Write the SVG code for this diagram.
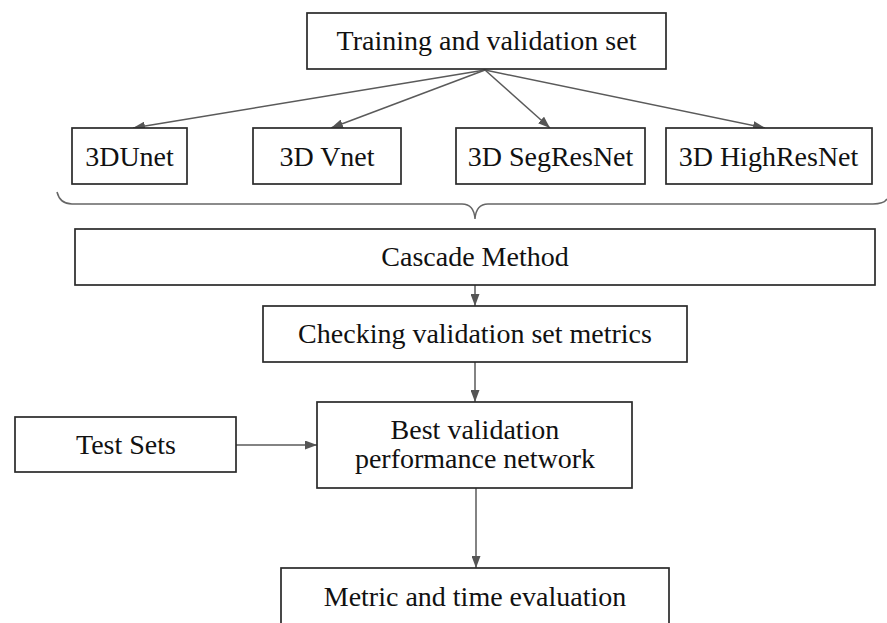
<svg xmlns="http://www.w3.org/2000/svg" width="887" height="623" viewBox="0 0 887 623">
<style>
.box{fill:#fff;stroke:#2a2a2a;stroke-width:1.7}
.lbl{font-family:"Liberation Serif","Times New Roman",serif;font-size:28px;fill:#111;text-anchor:middle}
.conn{fill:none;stroke:#5a5a5a;stroke-width:1.5}
.brace{fill:none;stroke:#666;stroke-width:1.5}
</style>
<defs>
<marker id="ah" viewBox="0 0 12 9" refX="12" refY="4.5" markerWidth="12" markerHeight="9" markerUnits="userSpaceOnUse" orient="auto">
<path d="M0,0 L12,4.5 L0,9 Z" fill="#555"/>
</marker>
</defs>
<rect width="887" height="623" fill="#fff"/>
<g id="connectors">
<line class="conn" x1="485" y1="70" x2="133" y2="128" marker-end="url(#ah)"/>
<line class="conn" x1="485" y1="70" x2="331" y2="128" marker-end="url(#ah)"/>
<line class="conn" x1="485" y1="70" x2="550" y2="128" marker-end="url(#ah)"/>
<line class="conn" x1="485" y1="70" x2="765" y2="128" marker-end="url(#ah)"/>
<line class="conn" x1="475" y1="285" x2="475" y2="306" marker-end="url(#ah)"/>
<line class="conn" x1="475" y1="362" x2="475" y2="402" marker-end="url(#ah)"/>
<line class="conn" x1="236" y1="445" x2="317" y2="445" marker-end="url(#ah)"/>
<line class="conn" x1="476" y1="488" x2="476" y2="568" marker-end="url(#ah)"/>
</g>
<path id="brace" class="brace" d="M57,192 Q60,204 72,204 L462,204 Q474,204 475,219 Q476,204 488,204 L873,204 Q884,204 887,199"/>
<g id="training">
<rect class="box" x="307" y="13" width="359" height="56"/>
<text class="lbl" x="486.5" y="50">Training and validation set</text>
</g>
<g id="unet">
<rect class="box" x="72" y="128" width="115" height="56"/>
<text class="lbl" x="129.5" y="166">3DUnet</text>
</g>
<g id="vnet">
<rect class="box" x="253" y="128" width="148" height="56"/>
<text class="lbl" x="327" y="166">3D Vnet</text>
</g>
<g id="segresnet">
<rect class="box" x="456" y="128" width="189" height="56"/>
<text class="lbl" x="550.5" y="166">3D SegResNet</text>
</g>
<g id="highresnet">
<rect class="box" x="666" y="128" width="206" height="56"/>
<text class="lbl" x="768.5" y="166">3D HighResNet</text>
</g>
<g id="cascade">
<rect class="box" x="75" y="229" width="800" height="56"/>
<text class="lbl" x="475" y="266">Cascade Method</text>
</g>
<g id="checking">
<rect class="box" x="263" y="306" width="424" height="56"/>
<text class="lbl" x="475" y="343">Checking validation set metrics</text>
</g>
<g id="best">
<rect class="box" x="317" y="402" width="315" height="86"/>
<text class="lbl" x="475" y="439">Best validation</text>
<text class="lbl" x="475" y="468">performance network</text>
</g>
<g id="testsets">
<rect class="box" x="15" y="417" width="221" height="55"/>
<text class="lbl" x="126" y="454">Test Sets</text>
</g>
<g id="metric">
<rect class="box" x="281" y="568" width="388" height="70"/>
<text class="lbl" x="475" y="606">Metric and time evaluation</text>
</g>
</svg>
